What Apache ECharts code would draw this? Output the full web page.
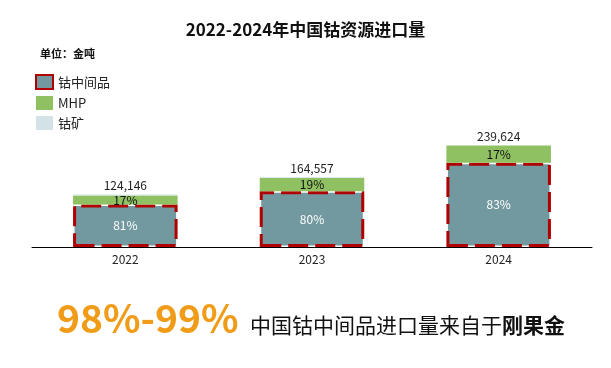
<!DOCTYPE html>
<html><head><meta charset="utf-8">
<script src="https://cdn.jsdelivr.net/npm/echarts@6/dist/echarts.min.js"></script>
<style>html,body{margin:0;padding:0;background:#fff}#c{width:611px;height:368px}</style>
</head><body><div id="c"></div>
<script>
var categories = ['2022', '2023', '2024'];
var intermediate = [100558, 131646, 198888];
var mhp = [21105, 31266, 40736];
var ore = [2483, 1645, 0];
var totals = [124146, 164557, 239624];
var intermediatePct = ['81%', '80%', '83%'];
var mhpPct = ['17%', '19%', '17%'];

var FONT = '"Noto Sans CJK SC", "Noto Sans", sans-serif';
var chart = echarts.init(document.getElementById('c'));
chart.setOption({
  animation: false,
  textStyle: { fontFamily: FONT },
  legend: {
    data: [{ name: '钴中间品', icon: 'rect' }, { name: 'MHP', icon: 'rect' }, { name: '钴矿', icon: 'rect' }],
    orient: 'vertical', left: 30, top: 69,
    itemWidth: 17, itemHeight: 14, itemGap: 6,
    textStyle: { fontSize: 13, color: '#222', fontFamily: FONT }
  },
  grid: { left: 32, right: 19, top: 120, bottom: 121 },
  xAxis: {
    type: 'category', data: categories,
    axisLine: { lineStyle: { color: '#000', width: 1 } },
    axisTick: { show: false },
    axisLabel: { color: '#222', fontSize: 12, margin: 6, fontFamily: FONT }
  },
  yAxis: { type: 'value', min: 0, max: 300000, show: false, splitLine: { show: false } },
  series: [
    {
      name: '钴中间品', type: 'bar', stack: 's', barWidth: '56%',
      data: intermediate,
      itemStyle: { color: '#72999f', borderColor: '#b00000', borderWidth: 3, borderType: [20, 7] },
      label: { show: true, position: 'inside', color: '#fff', fontSize: 12,
        formatter: function (p) { return intermediatePct[p.dataIndex]; } }
    },
    {
      name: 'MHP', type: 'bar', stack: 's',
      data: mhp,
      itemStyle: { color: '#8fc062' },
      label: { show: true, position: 'inside', color: '#111', fontSize: 12,
        formatter: function (p) { return mhpPct[p.dataIndex]; } }
    },
    {
      name: '钴矿', type: 'bar', stack: 's',
      data: ore,
      itemStyle: { color: '#d3e2e6' }
    },
    {
      name: 'total', type: 'bar', stack: 's',
      data: categories.map(function () { return 0; }),
      itemStyle: { color: 'transparent' },
      label: { show: true, position: 'top', distance: 3, color: '#222', fontSize: 12,
        formatter: function (p) { return totals[p.dataIndex].toLocaleString('en-US'); } }
    }
  ],
  graphic: [
    { type: 'text', left: 'center', top: 21,
      style: { text: '2022-2024年中国钴资源进口量', fontSize: 17, fontWeight: 'bold', fill: '#111', fontFamily: FONT } },
    { type: 'text', left: 40, top: 48,
      style: { text: '单位：金吨', fontSize: 11, fontWeight: 'bold', fill: '#111', fontFamily: FONT } },
    { type: 'text', left: 57, top: 299,
      style: { text: '98%-99%', fontSize: 39, fontWeight: 'bold', fill: '#f09c18', fontFamily: FONT } },
    { type: 'text', left: 250, top: 315,
      style: { rich: {
          a: { fontSize: 21, fill: '#111', fontFamily: FONT },
          b: { fontSize: 21, fontWeight: 'bold', fill: '#111', fontFamily: FONT } },
        text: '{a|中国钴中间品进口量来自于}{b|刚果金}' } }
  ]
});
</script></body></html>
